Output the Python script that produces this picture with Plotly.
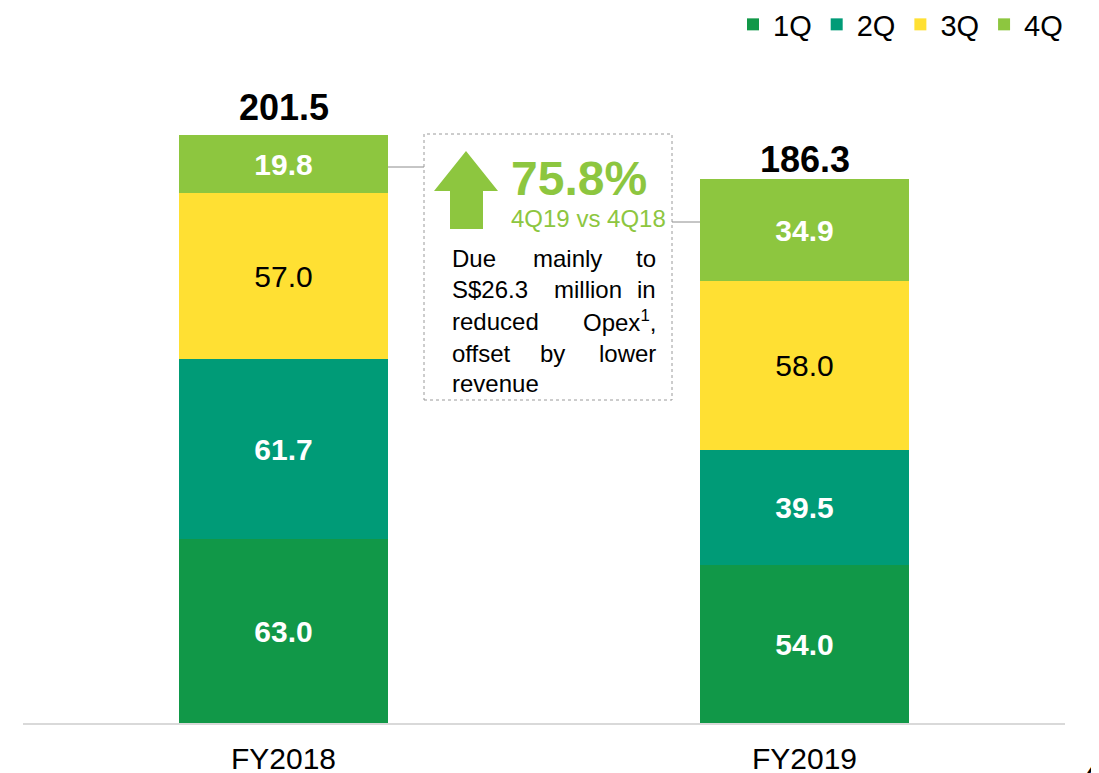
import plotly.graph_objects as go

categories = ["FY2018", "FY2019"]
quarters = ["1Q", "2Q", "3Q", "4Q"]
q1 = [63.0, 54.0]
q2 = [61.7, 39.5]
q3 = [57.0, 58.0]
q4 = [19.8, 34.9]
totals = [201.5, 186.3]

colors = ["#119848", "#009B77", "#FFE033", "#8DC63F"]
text_colors = ["white", "white", "black", "white"]
text_weights = ["bold", "bold", "normal", "bold"]

FONT = "Liberation Sans, Arial, sans-serif"

# page offset from default body margin
OFF = 8
# plot area in page pixels: x 23..1065, y 60..723
L, R, T, B = 23, 1065, 60, 723
def px(x):
    return (x - L) / (R - L)
def py(y):
    return (B - y) / (B - T)

fig = go.Figure()
for name, vals, c, tc, tw in zip(quarters, [q1, q2, q3, q4], colors, text_colors, text_weights):
    fig.add_trace(go.Bar(
        name=name, x=categories, y=vals, marker=dict(color=c, line=dict(width=0)),
        width=0.4, text=[f"{v:.1f}" for v in vals], textposition="inside",
        insidetextanchor="middle", constraintext="none",
        textfont=dict(family=FONT, size=30, color=tc, weight=tw),
        hoverinfo="skip",
    ))

annotations = []
for cat, tot, ys in zip(categories, totals, [28, 20]):
    annotations.append(dict(x=cat, y=tot, xref="x", yref="y", text=f"{tot:.1f}",
                            showarrow=False, yanchor="middle", yshift=ys,
                            font=dict(family=FONT, size=36, color="black", weight="bold")))

green = "#8DC63F"
annotations.append(dict(x=px(579), y=py(178), xref="paper", yref="paper", text="75.8%",
                        showarrow=False, xanchor="center", yanchor="middle",
                        font=dict(family=FONT, size=48, color=green, weight="bold")))
annotations.append(dict(x=px(588), y=py(218), xref="paper", yref="paper", text="4Q19 vs 4Q18",
                        showarrow=False, xanchor="center", yanchor="middle",
                        font=dict(family=FONT, size=24, color=green)))

body_lines = [
    [("Due", 450, "left"), ("mainly", 567, "center"), ("to", 658, "right")],
    [("S$26.3", 450, "left"), ("million", 588, "center"), ("in", 658, "right")],
    [("reduced", 450, "left"), ("Opex<sup>1</sup>,", 658, "right")],
    [("offset", 450, "left"), ("by", 552, "center"), ("lower", 658, "right")],
    [("revenue", 450, "left")],
]
line_y = [258, 289, 321, 353, 383]
for words, yy in zip(body_lines, line_y):
    for w, xx, anc in words:
        annotations.append(dict(x=px(xx), y=py(yy), xref="paper", yref="paper", text=w,
                                showarrow=False, xanchor=anc, yanchor="middle",
                                font=dict(family=FONT, size=24, color="black")))

# cut-off page number glyph bottom right
annotations.append(dict(x=px(1084), y=py(752), xref="paper", yref="paper", text="4", showarrow=False,
                        xanchor="left", yanchor="top",
                        font=dict(family=FONT, size=30, color="black", weight="bold")))

shapes = [
    dict(type="rect", xref="paper", yref="paper", x0=px(424), x1=px(672), y0=py(400), y1=py(134),
         line=dict(color="#9a9a9a", width=1, dash="dot"), fillcolor="rgba(0,0,0,0)"),
    dict(type="path", xref="paper", yref="paper",
         path=(f"M {px(466)},{py(151)} L {px(498)},{py(191)} L {px(483)},{py(191)} "
               f"L {px(483)},{py(229)} L {px(450)},{py(229)} L {px(450)},{py(191)} "
               f"L {px(434)},{py(191)} Z"),
         fillcolor=green, line=dict(width=0)),
    dict(type="line", xref="paper", yref="paper", x0=px(388), x1=px(424), y0=py(167), y1=py(167),
         line=dict(color="#8c8c8c", width=1)),
    dict(type="line", xref="paper", yref="paper", x0=px(672), x1=px(700), y0=py(222), y1=py(222),
         line=dict(color="#8c8c8c", width=1)),
]

fig.update_layout(
    width=1099, height=773,
    margin=dict(l=L - OFF, r=1099 - (R - OFF), t=T - OFF, b=773 - (B - OFF), pad=0, autoexpand=False),
    barmode="stack", bargap=0.6,
    paper_bgcolor="white", plot_bgcolor="white",
    font=dict(family=FONT, color="black"),
    showlegend=True,
    legend=dict(orientation="h", x=px(1068), xanchor="right", y=py(-1), yanchor="top",
                traceorder="normal", font=dict(family=FONT, size=29, color="black"),
                itemwidth=30, bgcolor="rgba(0,0,0,0)"),
    xaxis=dict(type="category", range=[-0.5, 1.5], showline=True, linecolor="#d9d9d9",
               linewidth=2, showgrid=False, ticks="", zeroline=False,
               tickfont=dict(family=FONT, size=30, color="black"), ticklabelstandoff=8),
    yaxis=dict(range=[0, (B - T) / 2.917], visible=False, showgrid=False, zeroline=False),
    annotations=annotations, shapes=shapes,
)

fig.write_html("out.html")
